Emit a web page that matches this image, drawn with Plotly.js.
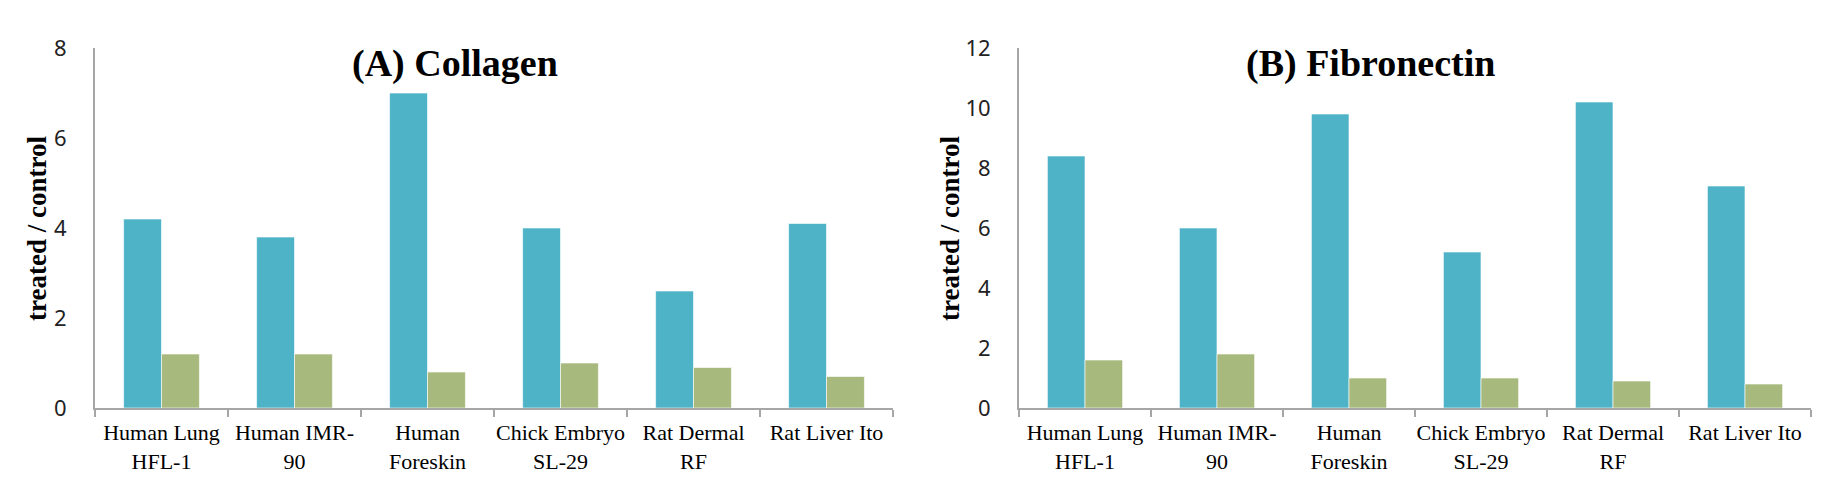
<!DOCTYPE html>
<html>
<head>
<meta charset="utf-8">
<script src="https://cdn.plot.ly/plotly-3.0.1.min.js"></script>
<style>html,body{margin:0;padding:0;background:#fff;}#chart{width:1832px;height:479px;}</style>
</head>
<body>
<div id="chart"></div>
<script>
const categories = ["Human Lung<br>HFL-1", "Human IMR-<br>90", "Human<br>Foreskin", "Chick Embryo<br>SL-29", "Rat Dermal<br>RF", "Rat Liver Ito"];
const collagenTreated = [4.2, 3.8, 7.0, 4.0, 2.6, 4.1];
const collagenControl = [1.2, 1.2, 0.8, 1.0, 0.9, 0.7];
const fibronectinTreated = [8.4, 6.0, 9.8, 5.2, 10.2, 7.4];
const fibronectinControl = [1.6, 1.8, 1.0, 1.0, 0.9, 0.8];
const panelTitles = ["(A) Collagen", "(B) Fibronectin"];
const yTitle = "treated / control";

const blue = "#4FB3C8";
const green = "#A8B97E";
const axisGrey = "#A6A6A6";

function bar(y, color, xa, ya) {
  return {
    type: "bar", x: categories, y: y, xaxis: xa, yaxis: ya,
    marker: {color: color, line: {color: "rgba(255,255,255,0.6)", width: 1}},
    showlegend: false, hoverinfo: "skip"
  };
}

const data = [
  bar(collagenTreated, blue, "x", "y"),
  bar(collagenControl, green, "x", "y"),
  bar(fibronectinTreated, blue, "x2", "y2"),
  bar(fibronectinControl, green, "x2", "y2")
];

const xCommon = {
  type: "category", showgrid: false, zeroline: false,
  showline: true, linecolor: axisGrey, linewidth: 2,
  ticks: "outside", tickson: "boundaries", ticklen: 7, tickwidth: 2, tickcolor: axisGrey,
  tickangle: 0, ticklabelstandoff: 4,
  tickfont: {family: "Liberation Serif, Times New Roman, serif", size: 22, color: "#000"},
  fixedrange: true
};
const yCommon = {
  showgrid: false, zeroline: false, showline: true, linecolor: axisGrey, linewidth: 2,
  ticks: "", dtick: 2, ticklabelstandoff: 22,
  tickfont: {family: "Noto Sans, sans-serif", size: 22, color: "#222"},
  fixedrange: true
};
const yDomain = [71/479, 431/479];

const layout = {
  width: 1832, height: 479,
  margin: {l: 0, r: 0, t: 0, b: 0},
  paper_bgcolor: "#fff", plot_bgcolor: "#fff",
  barmode: "group", bargap: 0.43, bargroupgap: 0,
  xaxis: Object.assign({}, xCommon, {domain: [95/1832, 893/1832], anchor: "y"}),
  xaxis2: Object.assign({}, xCommon, {domain: [1019/1832, 1811/1832], anchor: "y2"}),
  yaxis: Object.assign({}, yCommon, {domain: yDomain, range: [0, 8], anchor: "x"}),
  yaxis2: Object.assign({}, yCommon, {domain: yDomain, range: [0, 12], anchor: "x2"}),
  annotations: [
    {text: "<b>" + panelTitles[0] + "</b>", xref: "paper", yref: "paper", x: 455/1832, y: 1 - 63/479,
     xanchor: "center", yanchor: "middle", showarrow: false,
     font: {family: "Liberation Serif, Times New Roman, serif", size: 38, color: "#000"}},
    {text: "<b>" + panelTitles[1] + "</b>", xref: "paper", yref: "paper", x: 1370/1832, y: 1 - 63/479,
     xanchor: "center", yanchor: "middle", showarrow: false,
     font: {family: "Liberation Serif, Times New Roman, serif", size: 38, color: "#000"}},
    {text: "<b>" + yTitle + "</b>", xref: "paper", yref: "paper", x: 37/1832, y: 1 - 229/479,
     xanchor: "center", yanchor: "middle", textangle: -90, showarrow: false,
     font: {family: "Liberation Serif, Times New Roman, serif", size: 27, color: "#000"}},
    {text: "<b>" + yTitle + "</b>", xref: "paper", yref: "paper", x: 950/1832, y: 1 - 229/479,
     xanchor: "center", yanchor: "middle", textangle: -90, showarrow: false,
     font: {family: "Liberation Serif, Times New Roman, serif", size: 27, color: "#000"}}
  ]
};

Plotly.newPlot("chart", data, layout, {displayModeBar: false, staticPlot: true});
</script>
</body>
</html>
